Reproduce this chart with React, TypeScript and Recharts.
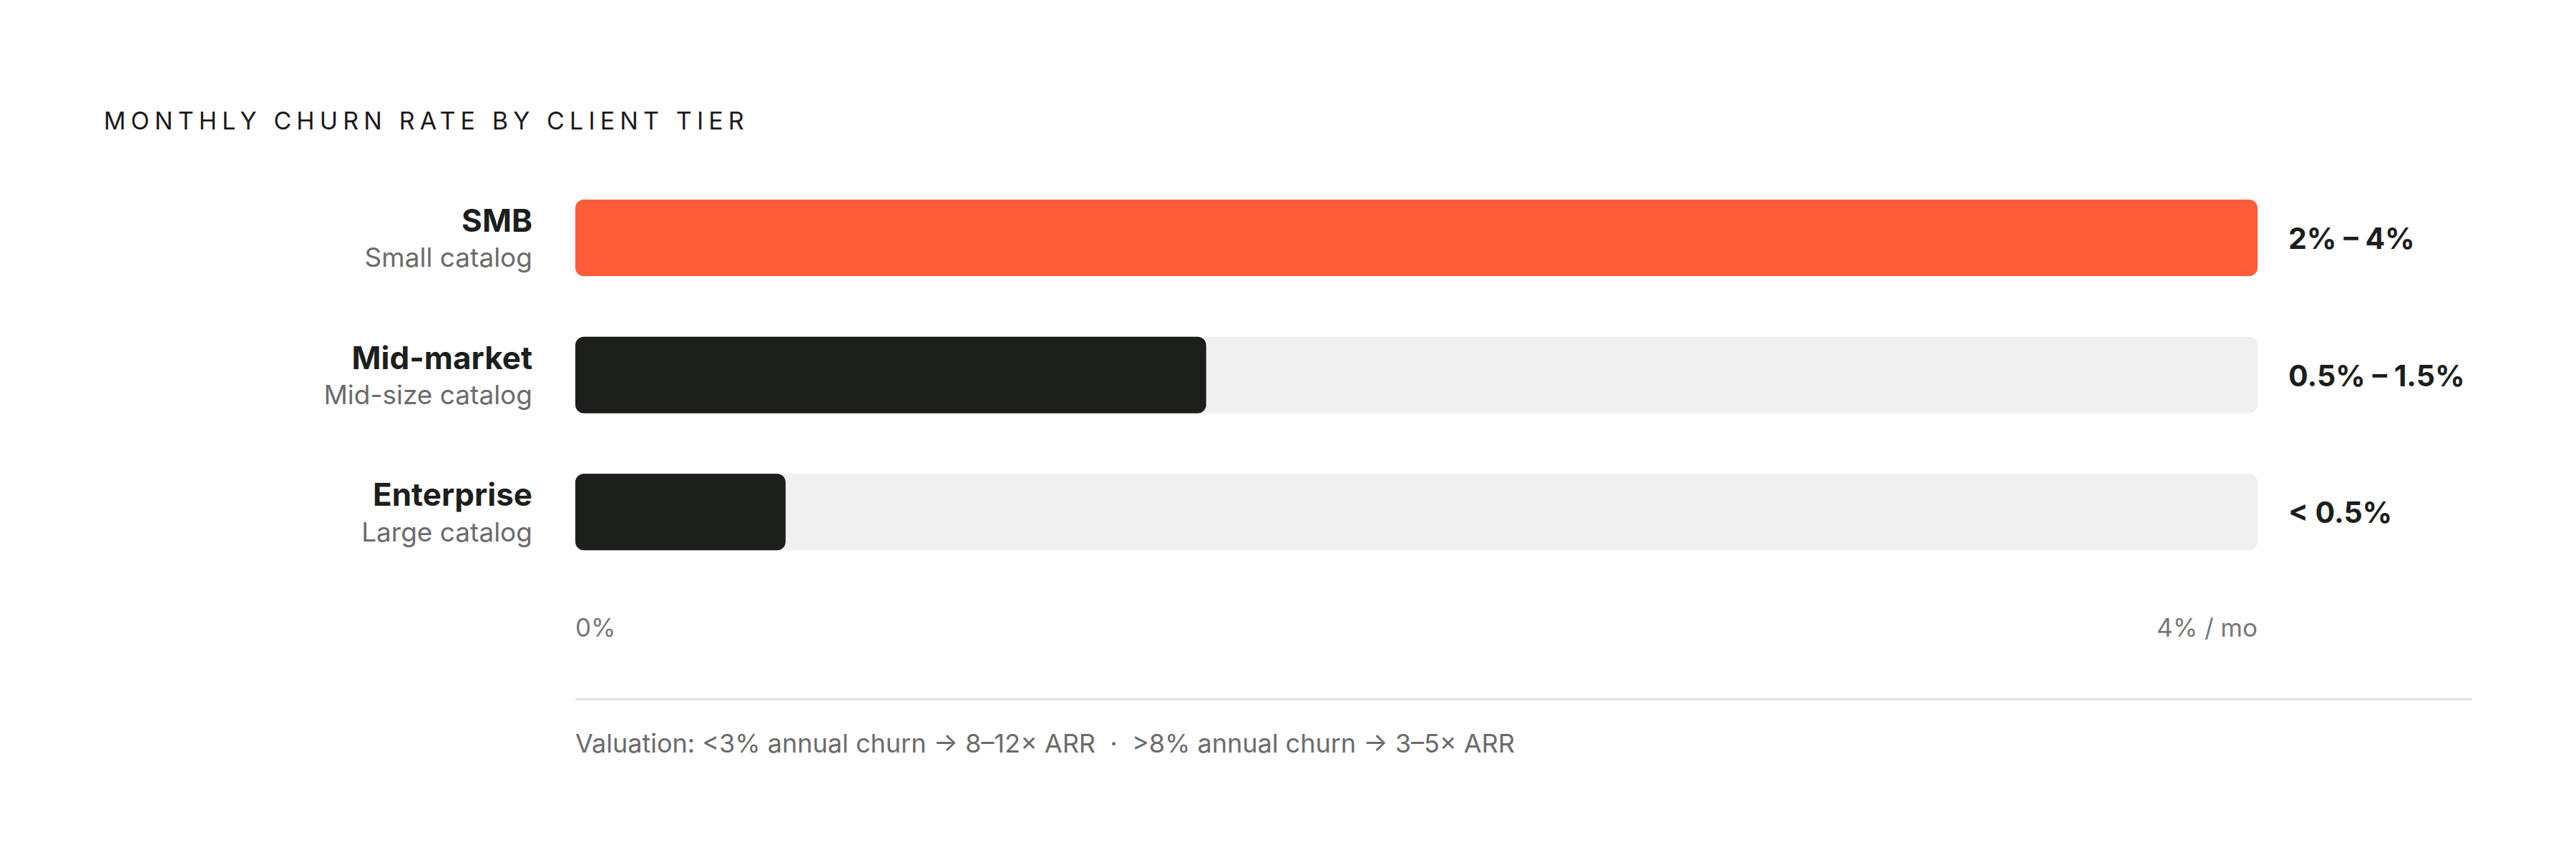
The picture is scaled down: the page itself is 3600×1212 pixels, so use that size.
import React from 'react';
import { BarChart, Bar, XAxis, YAxis, Cell } from 'recharts';

const tiers = ['SMB', 'Mid-market', 'Enterprise'];
const catalogs = ['Small catalog', 'Mid-size catalog', 'Large catalog'];
// upper bound of the monthly churn range, in %
const churnHigh = [4, 1.5, 0.5];
const rangeLabels = ['2% – 4%', '0.5% – 1.5%', '< 0.5%'];
const axisTicks = [0, 4];
const axisLabels = ['0%', '4% / mo'];

const title = 'MONTHLY CHURN RATE BY CLIENT TIER';
const footnote = 'Valuation: <3% annual churn → 8–12× ARR  ·  >8% annual churn → 3–5× ARR';

const highlightTier = 'SMB';

const data = tiers.map((tier, i) => ({
  tier,
  catalog: catalogs[i],
  high: churnHigh[i],
  range: rangeLabels[i],
}));

const FONT = 'Inter, "Noto Sans", sans-serif';
const ORANGE = '#ff5c39';
const DARK = '#1c1f1c';
const TRACK = '#f0f0f0';

const TierTick = (props: any) => {
  const { x, y, payload, index } = props;
  return (
    <g>
      <text x={x} y={y - 25} textAnchor="end" dominantBaseline="central"
        fontFamily={FONT} fontSize={44} fontWeight={700} fill={DARK}>
        {payload.value}
      </text>
      <text x={x} y={y + 27} textAnchor="end" dominantBaseline="central"
        fontFamily={FONT} fontSize={37} fill="#6b6b6b">
        {catalogs[index]}
      </text>
    </g>
  );
};

const RangeTick = (props: any) => {
  const { x, y, payload } = props;
  return (
    <text x={x} y={y} textAnchor="start" dominantBaseline="central"
      fontFamily={FONT} fontSize={41} fontWeight={700} fill={DARK}>
      {payload.value}
    </text>
  );
};

const ValueTick = (props: any) => {
  const { x, y, payload, index } = props;
  return (
    <text x={x} y={y} textAnchor={index === 0 ? 'start' : 'end'} dominantBaseline="central"
      fontFamily={FONT} fontSize={35} fill="#777">
      {axisLabels[axisTicks.indexOf(payload.value)]}
    </text>
  );
};

const App: React.FC = () => {
  return (
    <div style={{ position: 'absolute', left: 0, top: 0, width: 3600, height: 1212, background: '#fff', fontFamily: FONT }}>
      <div style={{
        position: 'absolute', left: 145, top: 168, transform: 'translateY(-50%)',
        fontSize: 34, letterSpacing: '0.21em', color: '#1a1a1a', whiteSpace: 'nowrap',
      }}>
        {title}
      </div>

      <BarChart
        width={3600}
        height={1212}
        data={data}
        layout="vertical"
        margin={{ top: 237, right: 0, bottom: 300, left: 0 }}
      >
        <XAxis type="number" domain={[0, 4]} ticks={axisTicks} axisLine={false} tickLine={false}
          tickSize={0} tickMargin={65} height={100} tick={<ValueTick />} interval={0} />
        <YAxis yAxisId="left" type="category" dataKey="tier" width={804} axisLine={false}
          tickLine={false} tickSize={0} tickMargin={60} tick={<TierTick />} interval={0} />
        <YAxis yAxisId="right" orientation="right" type="category" dataKey="range" width={445}
          axisLine={false} tickLine={false} tickSize={0} tickMargin={43} tick={<RangeTick />} interval={0} />
        <Bar yAxisId="left" dataKey="high" barSize={107} radius={12}
          background={{ fill: TRACK, radius: 12 }} isAnimationActive={false}>
          {data.map((d) => (
            <Cell key={d.tier} fill={d.tier === highlightTier ? ORANGE : DARK} />
          ))}
        </Bar>
      </BarChart>

      <div style={{ position: 'absolute', left: 804, top: 976, width: 3455 - 804, height: 3, background: '#e3e3e3' }} />
      <div style={{
        position: 'absolute', left: 804, top: 1039, transform: 'translateY(-50%)',
        fontSize: 36, color: '#6b6b6b', whiteSpace: 'pre',
      }}>
        {footnote}
      </div>
    </div>
  );
};

export default App;
